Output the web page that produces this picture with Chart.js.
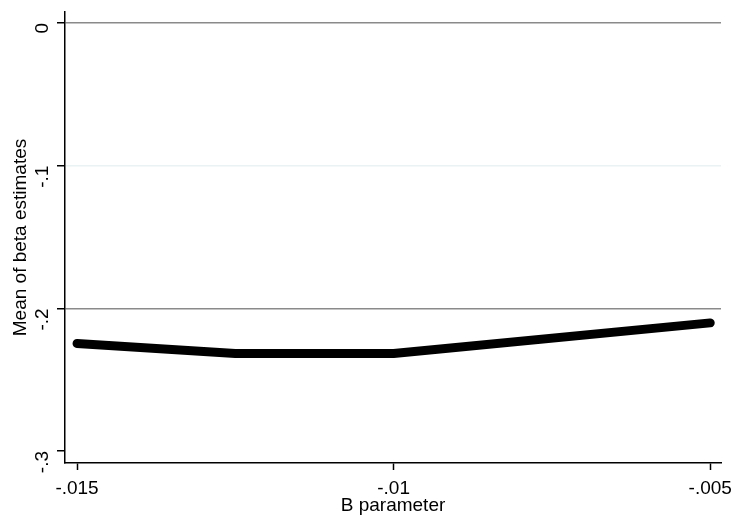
<!DOCTYPE html>
<html>
<head>
<meta charset="utf-8">
<script src="https://cdn.jsdelivr.net/npm/chart.js@4/dist/chart.umd.min.js"></script>
<style>
  html, body { margin: 0; padding: 0; background: #fff; }
  #wrap { width: 735px; height: 517px; }
</style>
</head>
<body>
<div id="wrap"><canvas id="c"></canvas></div>
<script>
// B parameter values and the mean beta estimate at each
const bParam = [-0.015, -0.0125, -0.01, -0.005];
const meanBeta = [-0.2246, -0.2316, -0.2316, -0.2102];
const xTicks = [-0.015, -0.01, -0.005];
const yTicks = [-0.3, -0.2, -0.1, 0];
const refLines = [0, -0.2];

// Stata-style labels: drop the leading zero ("-.015")
const stataFmt = (v) => {
  const s = String(+v.toFixed(4));
  return s.replace(/^(-?)0\./, "$1.");
};

const FONT = { family: "'Liberation Sans', Arial, sans-serif", size: 19 };

new Chart(document.getElementById("c").getContext("2d"), {
  type: "line",
  data: {
    datasets: [{
      data: bParam.map((x, i) => ({ x, y: meanBeta[i] })),
      borderColor: "#000",
      borderWidth: 9,
      borderCapStyle: "round",
      borderJoinStyle: "round",
      pointRadius: 0,
      tension: 0,
    }],
  },
  options: {
    responsive: true,
    maintainAspectRatio: false,
    animation: false,
    layout: { padding: { top: 12, right: 14, left: 0, bottom: 0 } },
    plugins: { legend: { display: false }, tooltip: { enabled: false } },
    scales: {
      x: {
        type: "linear",
        min: -0.01519,
        max: -0.00483,
        afterBuildTicks: (s) => { s.ticks = xTicks.map((value) => ({ value })); },
        // fixed axis box so the plot region lands where Stata put it
        afterFit: (s) => { s.height = 54; s.paddingLeft = 0; s.paddingRight = 0; },
        border: { color: "#000", width: 1.5 },
        grid: { drawOnChartArea: false, drawTicks: true, tickLength: 7, tickColor: "#000", tickWidth: 1.5 },
        ticks: { color: "#000", font: FONT, padding: 7, maxRotation: 0, callback: stataFmt },
        title: { display: true, text: "B parameter", color: "#000", font: FONT, padding: { top: 0, bottom: 0 } },
      },
      y: {
        min: -0.3084,
        max: 0.0077,
        afterBuildTicks: (s) => { s.ticks = yTicks.map((value) => ({ value })); },
        afterFit: (s) => { s.width = 65; s.paddingTop = 0; s.paddingBottom = 0; },
        border: { color: "#000", width: 1.5 },
        grid: {
          drawTicks: true,
          tickLength: 8,
          tickColor: "#000",
          tickWidth: 1.5,
          color: (ctx) => {
            const v = ctx.tick ? ctx.tick.value : null;
            if (v === null) return "transparent";
            if (refLines.some((r) => Math.abs(r - v) < 1e-9)) return "#8a8a8a";
            if (Math.abs(v + 0.1) < 1e-9) return "#eaf2f3";
            return "transparent";
          },
          lineWidth: 1.5,
        },
        ticks: { color: "#000", font: FONT, padding: 14, minRotation: 90, maxRotation: 90, callback: stataFmt },
        title: { display: true, text: "Mean of beta estimates", color: "#000", font: FONT, padding: { top: 9, bottom: 0 } },
      },
    },
  },
});
</script>
</body>
</html>
